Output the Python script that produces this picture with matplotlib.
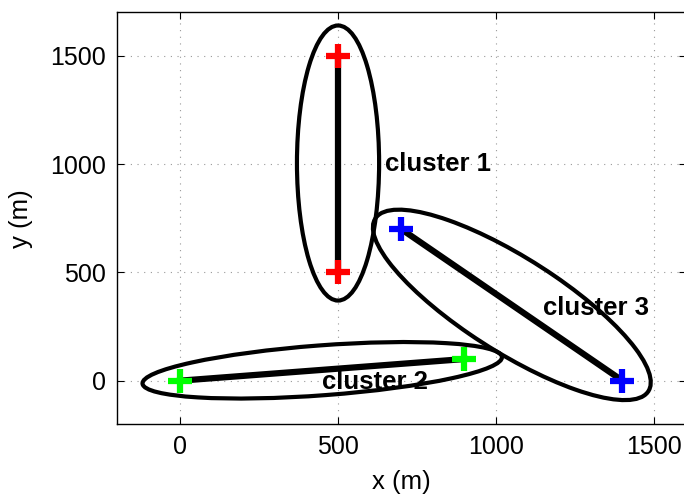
import numpy as np
import matplotlib
matplotlib.use('Agg')
import matplotlib.pyplot as plt
from matplotlib.patches import Ellipse

plt.rcParams['font.family'] = ['Liberation Sans', 'DejaVu Sans']

# cluster end points (m)
c1_x = [500, 500]
c1_y = [500, 1500]
c2_x = [0, 900]
c2_y = [0, 100]
c3_x = [700, 1400]
c3_y = [700, 0]

# enclosing ellipses: centre x, centre y, full width, full height, angle (deg)
ell_cx = [500, 450, 1050]
ell_cy = [1005, 48, 350]
ell_w = [1270, 1144, 1184]
ell_h = [260, 230, 380]
ell_ang = [90, 6.3, -45]

labels = ['cluster 1', 'cluster 2', 'cluster 3']
label_x = [650, 450, 1150]
label_y = [1000, -5, 335]

fig = plt.figure(figsize=(6.84, 4.94), dpi=100)
ax = fig.add_axes([0.1708, 0.1417, 0.8316, 0.8330])

# thick lines between the cluster heads
ax.plot(c1_x, c1_y, 'k-', lw=4.5, zorder=2)
ax.plot(c2_x, c2_y, 'k-', lw=4.5, zorder=2)
ax.plot(c3_x, c3_y, 'k-', lw=4.5, zorder=2)

ax.plot(c1_x, c1_y, 'r+', ms=17, mew=4.5, ls='none', zorder=3)
ax.plot(c2_x, c2_y, '+', color=(0, 1, 0), ms=17, mew=4.5, ls='none', zorder=3)
ax.plot(c3_x, c3_y, 'b+', ms=17, mew=4.5, ls='none', zorder=3)

for cx, cy, w, h, a in zip(ell_cx, ell_cy, ell_w, ell_h, ell_ang):
    e = Ellipse((cx, cy), w, h, angle=a, fill=False, ec='k', lw=3.0, zorder=4)
    ax.add_patch(e)

for t, x, y in zip(labels, label_x, label_y):
    ax.text(x, y, t, fontsize=18.5, fontweight='bold', ha='left', va='center', zorder=2.5)

ax.set_xlim(-200, 1600)
ax.set_ylim(-200, 1700)
ax.set_xticks([0, 500, 1000, 1500])
ax.set_yticks([0, 500, 1000, 1500])
ax.tick_params(direction='in', length=5, top=True, right=True, labelsize=18, pad=8)
ax.grid(True, ls=(0, (1, 5)), color='#999999', lw=0.8)
for s in ax.spines.values():
    s.set_linewidth(1.0)

ax.set_xlabel('x (m)', fontsize=18.5, labelpad=8)
ax.set_ylabel('y (m)', fontsize=18.5, labelpad=12)

fig.savefig('out.png', dpi=100)
